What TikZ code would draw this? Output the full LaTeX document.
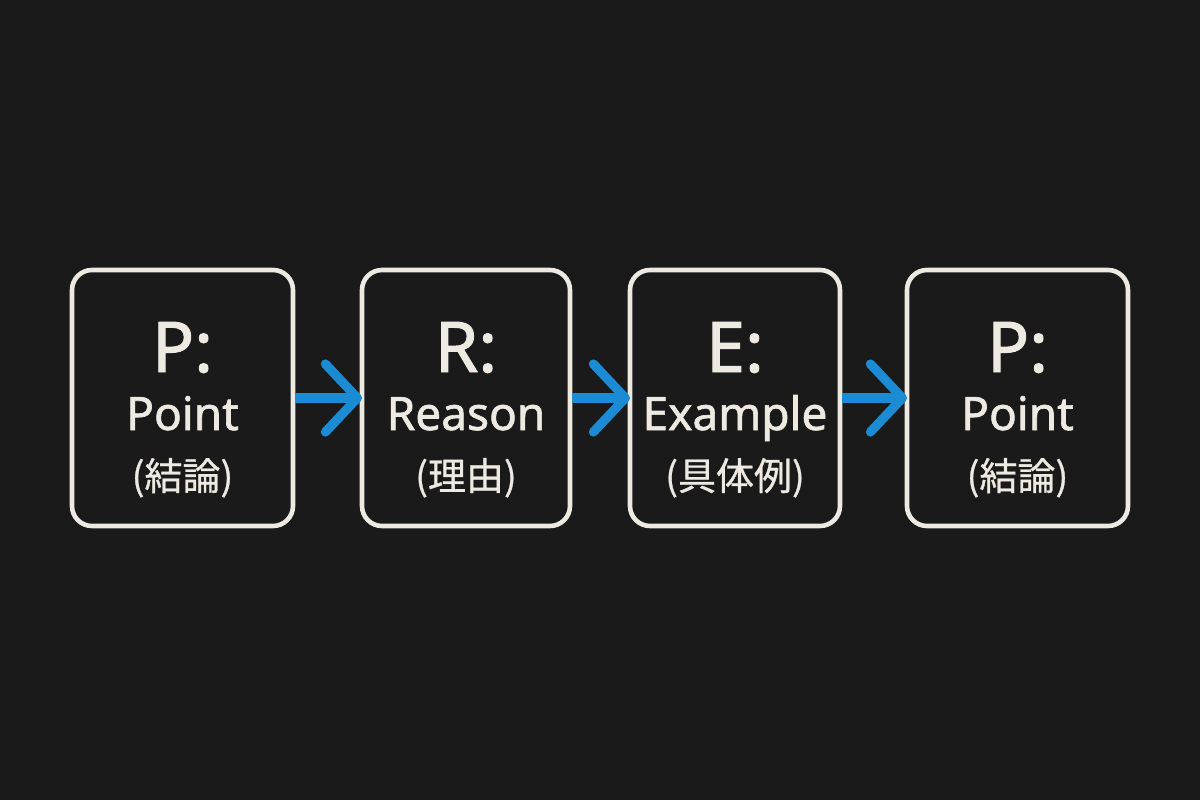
\documentclass[tikz,border=0pt]{standalone}
\usepackage{fontspec}
\setmainfont{Noto Sans}
\newfontface\stagefont{Noto Sans}[FakeBold=1.4]
\newfontfamily\cjk{Noto Sans CJK JP}[FakeBold=0.8]
\usetikzlibrary{positioning,arrows.meta}
\definecolor{bgdark}{HTML}{1A1A1A}
\definecolor{chalk}{HTML}{EEEAE2}
\definecolor{arrowblue}{HTML}{1B8BD3}
\tikzstyle{stage} = [draw=chalk, line width=2.3pt, rounded corners=10pt, fill=bgdark, text=chalk, minimum height=128pt, inner sep=0pt, outer sep=0pt]
\tikzstyle{line} = [draw=arrowblue, line width=4.6pt, shorten <=1pt, -{Straight Barb[length=16pt,width=34pt,round]}]
% three lines: letter, word, japanese
\newcommand{\stagetext}[3]{%
  \raisebox{13pt}[0pt][0pt]{\vtop{\lineskiplimit=-\maxdimen
    \baselineskip=29pt
    \hbox to 0pt{\hss\stagefont\fontsize{35}{35}\selectfont #1\hss}
    \hbox to 0pt{\hss\stagefont\fontsize{23}{23}\selectfont #2\hss}
    \baselineskip=30pt
    \hbox to 0pt{\hss\cjk\fontsize{19}{19}\selectfont (#3)\hss}}}}

\begin{document}
\begin{tikzpicture}
    \fill[bgdark] (0,0) rectangle (600pt,400pt);
    \useasboundingbox (0,0) rectangle (600pt,400pt);
    \node[stage, minimum width=110.5pt] (point) at (91.25pt,201pt) {\stagetext{P:}{Point}{結論}};
    \node[stage, minimum width=104pt, right=34.5pt of point] (reason) {\stagetext{R:}{Reason}{理由}};
    \node[stage, minimum width=105pt, right=30pt of reason] (example) {\stagetext{E:}{Example}{具体例}};
    \node[stage, minimum width=110.5pt, right=33.5pt of example] (point2) {\stagetext{P:}{Point}{結論}};
    \path[line] (point) -- (reason);
    \path[line] (reason) -- (example);
    \path[line] (example) -- (point2);
\end{tikzpicture}
\end{document}
